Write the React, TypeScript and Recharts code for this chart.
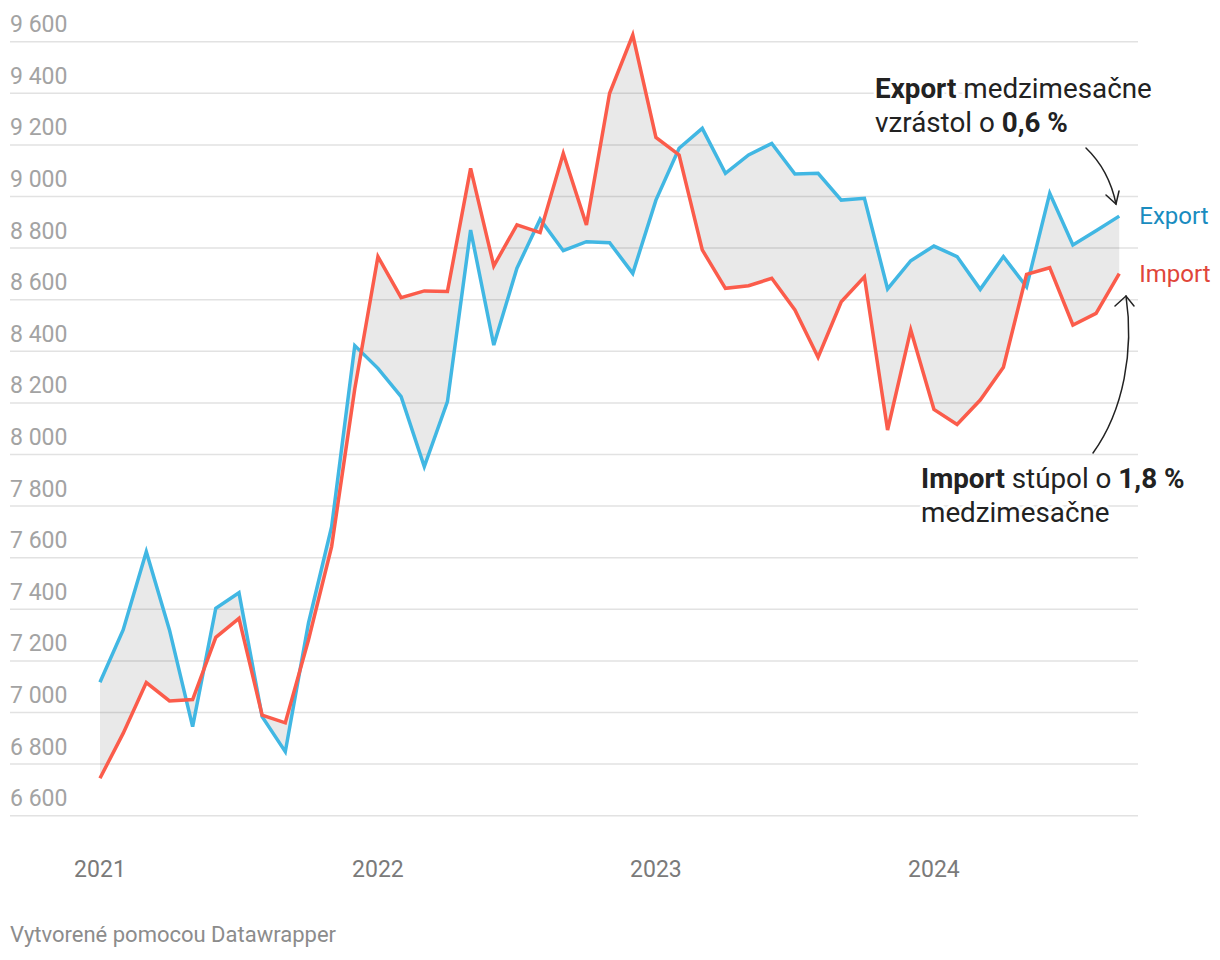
import React from 'react'
import { ComposedChart, Line, Area, XAxis, YAxis, CartesianGrid } from 'recharts'

const months = [
  '2021-01', '2021-02', '2021-03', '2021-04', '2021-05', '2021-06', '2021-07', '2021-08', '2021-09', '2021-10', '2021-11', '2021-12',
  '2022-01', '2022-02', '2022-03', '2022-04', '2022-05', '2022-06', '2022-07', '2022-08', '2022-09', '2022-10', '2022-11', '2022-12',
  '2023-01', '2023-02', '2023-03', '2023-04', '2023-05', '2023-06', '2023-07', '2023-08', '2023-09', '2023-10', '2023-11', '2023-12',
  '2024-01', '2024-02', '2024-03', '2024-04', '2024-05', '2024-06', '2024-07', '2024-08', '2024-09',
]

const exportValues = [
  7117, 7320, 7623, 7320, 6945, 7404, 7464, 6984, 6848, 7346, 7720, 8422,
  8334, 8224, 7953, 8205, 8870, 8424, 8722, 8912, 8790, 8825, 8821, 8702,
  8986, 9187, 9264, 9090, 9161, 9206, 9087, 9090, 8986, 8993, 8642, 8751,
  8808, 8767, 8640, 8767, 8650, 9012, 8812, 8867, 8924,
]

const importValues = [
  6745, 6919, 7116, 7045, 7050, 7291, 7365, 6990, 6960, 7281, 7643, 8255,
  8767, 8608, 8634, 8632, 9109, 8731, 8890, 8860, 9167, 8890, 9400, 9626,
  9229, 9161, 8793, 8644, 8654, 8683, 8560, 8377, 8592, 8689, 8095, 8483,
  8175, 8116, 8211, 8338, 8698, 8724, 8502, 8547, 8701,
]

const yearTicks = [0, 12, 24, 36]
const yTicks = [6600, 6800, 7000, 7200, 7400, 7600, 7800, 8000, 8200, 8400, 8600, 8800, 9000, 9200, 9400, 9600]
const yDomain = [6600, 9700]

const data = months.map((m, i) => ({
  i,
  month: m,
  export: exportValues[i],
  import: importValues[i],
  range: [importValues[i], exportValues[i]],
}))

const FONT = 'Roboto, "Noto Sans", sans-serif'
const last = months.length - 1

const fmt = (v: number) => `${Math.floor(v / 1000)} ${String(v % 1000).padStart(3, '0')}`

// gridlines only at the labelled ticks (not at the padded top of the domain)
const gridRows = ({ offset }: any) =>
  yTicks.map((t) => offset.top + (offset.height * (yDomain[1] - t)) / (yDomain[1] - yDomain[0]))

function YTick(props: any) {
  const { y, payload } = props
  return (
    <text x={10} y={y - 9.5} fill="#a3a3a3" fontSize={23} fontFamily={FONT} textAnchor="start">
      {fmt(payload.value)}
    </text>
  )
}

function XTick(props: any) {
  const { x, y, payload } = props
  return (
    <text x={x} y={y + 61} fill="#7a7a7a" fontSize={23} fontFamily={FONT} textAnchor="middle">
      {months[payload.value].slice(0, 4)}
    </text>
  )
}

const endLabel = (name: string, color: string) => (props: any) => {
  if (props.index !== last) return null
  return (
    <text x={props.x + 20} y={props.y + 8} fill={color} fontSize={24} fontFamily={FONT}>
      {name}
    </text>
  )
}

function Annotations() {
  return (
    <svg width={1220} height={960} style={{ position: 'absolute', left: 0, top: 0, pointerEvents: 'none' }}>
      <g
        fontFamily={FONT}
        fontSize={27.8}
        fill="#222"
        stroke="#fff"
        strokeWidth={6}
        strokeLinejoin="round"
        style={{ paintOrder: 'stroke' }}
      >
        <text x={875} y={98}>
          <tspan fontWeight={700}>Export</tspan> medzimesačne
        </text>
        <text x={875} y={132}>
          vzrástol o <tspan fontWeight={700}>0,6 %</tspan>
        </text>
        <text x={921} y={488}>
          <tspan fontWeight={700}>Import</tspan> stúpol o <tspan fontWeight={700}>1,8 %</tspan>
        </text>
        <text x={921} y={522}>
          medzimesačne
        </text>
      </g>
      <g fill="none" stroke="#222" strokeWidth={1.5} strokeLinecap="round">
        <path d="M1086,148 Q1109,170 1116,204" />
        <path d="M1106,195 L1116,204 L1119,191" />
        <path d="M1093,453 C1124,410 1134,350 1126,296" />
        <path d="M1115,306 L1126,296 L1134,306" />
      </g>
    </svg>
  )
}

export default function App() {
  return (
    <div style={{ position: 'absolute', left: 0, top: 0, width: 1220, height: 960, background: '#fff', fontFamily: FONT }}>
      <ComposedChart
        width={1220}
        height={960}
        data={data}
        margin={{ top: 15.9, right: 82, left: 9, bottom: 94.3 }}
      >
        <CartesianGrid
          horizontal
          vertical={false}
          stroke="#e2e2e2"
          strokeWidth={1.5}
          horizontalCoordinatesGenerator={gridRows}
        />
        <XAxis
          type="number"
          dataKey="i"
          domain={[-3.884, 44.81]}
          allowDataOverflow
          ticks={yearTicks}
          tick={<XTick />}
          tickLine={false}
          axisLine={false}
          tickSize={0}
          tickMargin={0}
          height={50}
          interval={0}
        />
        <YAxis
          domain={yDomain}
          ticks={yTicks}
          tick={<YTick />}
          width={1}
          tickLine={false}
          axisLine={false}
          interval={0}
        />
        <Area
          type="linear"
          dataKey="range"
          stroke="none"
          fill="#000"
          fillOpacity={0.085}
          isAnimationActive={false}
        />
        <Line
          type="linear"
          dataKey="export"
          stroke="#41b7e3"
          strokeWidth={3.5}
          dot={false}
          isAnimationActive={false}
          label={endLabel('Export', '#1a8cbf')}
        />
        <Line
          type="linear"
          dataKey="import"
          stroke="#fb5c4b"
          strokeWidth={3.5}
          dot={false}
          isAnimationActive={false}
          label={endLabel('Import', '#e0463a')}
        />
      </ComposedChart>
      <Annotations />
      <div
        style={{
          position: 'absolute',
          left: 10,
          top: 922,
          fontSize: 22,
          lineHeight: '26px',
          color: '#8c8c8c',
          fontFamily: FONT,
          whiteSpace: 'nowrap',
        }}
      >
        Vytvorené pomocou Datawrapper
      </div>
    </div>
  )
}
